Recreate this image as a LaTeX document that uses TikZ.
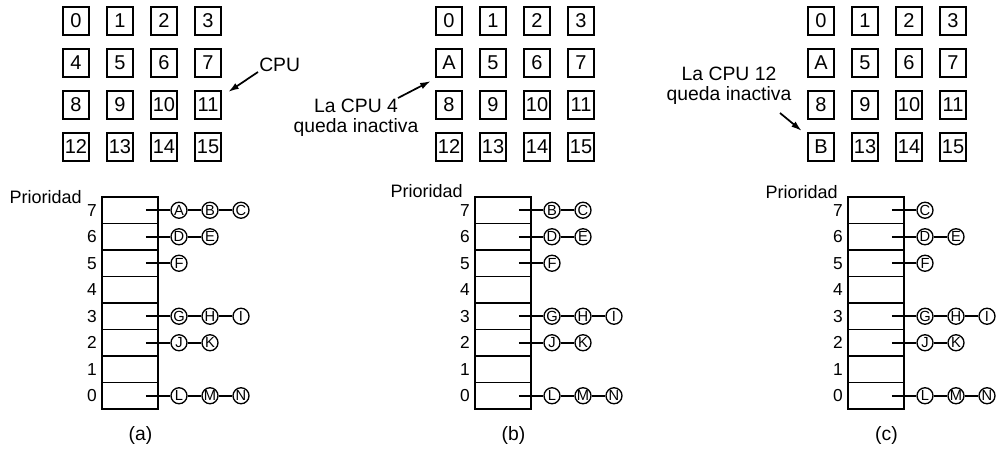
\documentclass[tikz,border=0pt]{standalone}
\usepackage{fontspec}
\setmainfont{Liberation Sans}
\usetikzlibrary{arrows.meta}
\usetikzlibrary{positioning}

\begin{document}
\begin{tikzpicture}[x = 0.75pt, y = -0.75pt,
    cpubox/.style = {draw, line width = 1.3pt, minimum width = 20pt, minimum height = 20.5pt, inner sep = 0pt, font = \fontsize{15}{15}\selectfont},
    priorow/.style = {draw, line width = 1.3pt, minimum width = 42pt, minimum height = 19.9pt, inner sep = 0pt},
    prionum/.style = {inner sep = 0pt, font = \fontsize{13}{13}\selectfont},
    proc/.style = {draw, circle, line width = 1pt, minimum size = 12pt, inner sep = 0pt, fill = white, font = \fontsize{11}{11}\selectfont},
    link/.style = {line width = 1.2pt},
    note/.style = {inner sep = 0pt, align = center, font = \fontsize{14.5}{15}\selectfont},
    pointer/.style = {line width = 1.3pt, -{Latex[length = 8pt, width = 5pt]}}]

    \useasboundingbox (0,0) rectangle (998,449);

    \begin{scope}

    \foreach \t [count = \i from 0] in {0,1,2,3,4,5,6,7,8,9,10,11,12,13,14,15}
    \node[cpubox] (a-cpu\i) at ({76+44*mod(\i,4)}, {21+42*floor(\i/4)}) {\t};

    \foreach \r [count = \k from 0] in {7,6,...,0} {
      \node[priorow] (a-prio\r) at (130, {210.25+26.5*\k}) {};
      \node[prionum, left = 3pt of a-prio\r] (a-num\r) {\r};
    }
    \node[note, anchor = base east, font = \fontsize{13.5}{14}\selectfont] (a-title) at (82,203) {Prioridad};

    \foreach \r/\items in {7/{A,B,C}, 6/{D,E}, 5/{F}, 3/{G,H,I}, 2/{J,K}, 0/{L,M,N}} {
      \coordinate (a-tail\r) at ([xshift = -9.75pt]a-prio\r.east);
      \foreach \t [count = \j, remember = \t as \last (initially tail\r)] in \items {
        \node[proc] (a-\t) at ({148+31*\j}, {210.25+26.5*(7-\r)}) {\t};
        \draw[link] (a-\last) -- (a-\t);
      }
    }

    \node[note, anchor = west] (a-cpulbl) at (259,65) {CPU};
    \coordinate (a-from) at (258,72);
    \draw[pointer] (a-from) -- ([shift = {(6,1.5)}]a-cpu11.north east);

    \node[note] (a-cap) at (140.5,435) {(a)};

    \end{scope}

    \begin{scope}[shift = {(373,0)}]

    \foreach \t [count = \i from 0] in {0,1,2,3,A,5,6,7,8,9,10,11,12,13,14,15}
    \node[cpubox] (b-cpu\i) at ({76+44*mod(\i,4)}, {21+42*floor(\i/4)}) {\t};

    \foreach \r [count = \k from 0] in {7,6,...,0} {
      \node[priorow] (b-prio\r) at (130, {210.25+26.5*\k}) {};
      \node[prionum, left = 3pt of b-prio\r] (b-num\r) {\r};
    }
    \node[note, anchor = base east, font = \fontsize{13.5}{14}\selectfont] (b-title) at (90,197) {Prioridad};

    \foreach \r/\items in {7/{B,C}, 6/{D,E}, 5/{F}, 3/{G,H,I}, 2/{J,K}, 0/{L,M,N}} {
      \coordinate (b-tail\r) at ([xshift = -9.75pt]b-prio\r.east);
      \foreach \t [count = \j, remember = \t as \last (initially tail\r)] in \items {
        \node[proc] (b-\t) at ({148+31*\j}, {210.25+26.5*(7-\r)}) {\t};
        \draw[link] (b-\last) -- (b-\t);
      }
    }

    \node[note] (b-idle) at (-17,118) {La CPU 4\\queda inactiva};
    \coordinate (b-from) at (25,98);
    \draw[pointer] (b-from) -- ([shift = {(-4,3.5)}]b-cpu4.south west);

    \node[note] (b-cap) at (140.5,435) {(b)};

    \end{scope}

    \begin{scope}[shift = {(746,0)}]

    \foreach \t [count = \i from 0] in {0,1,2,3,A,5,6,7,8,9,10,11,B,13,14,15}
    \node[cpubox] (c-cpu\i) at ({75+44*mod(\i,4)}, {21+42*floor(\i/4)}) {\t};

    \foreach \r [count = \k from 0] in {7,6,...,0} {
      \node[priorow] (c-prio\r) at (130, {210.25+26.5*\k}) {};
      \node[prionum, left = 3pt of c-prio\r] (c-num\r) {\r};
    }
    \node[note, anchor = base east, font = \fontsize{13.5}{14}\selectfont] (c-title) at (92,198) {Prioridad};

    \foreach \r/\items in {7/{C}, 6/{D,E}, 5/{F}, 3/{G,H,I}, 2/{J,K}, 0/{L,M,N}} {
      \coordinate (c-tail\r) at ([xshift = -9.75pt]c-prio\r.east);
      \foreach \t [count = \j, remember = \t as \last (initially tail\r)] in \items {
        \node[proc] (c-\t) at ({148+31*\j}, {210.25+26.5*(7-\r)}) {\t};
        \draw[link] (c-\last) -- (c-\t);
      }
    }

    \node[note] (c-idle) at (-17,85.5) {La CPU 12\\queda inactiva};
    \coordinate (c-from) at (34,113);
    \draw[pointer] (c-from) -- ([shift = {(-5,-1.5)}]c-cpu12.north west);

    \node[note] (c-cap) at (140.5,435) {(c)};

    \end{scope}

\end{tikzpicture}
\end{document}
